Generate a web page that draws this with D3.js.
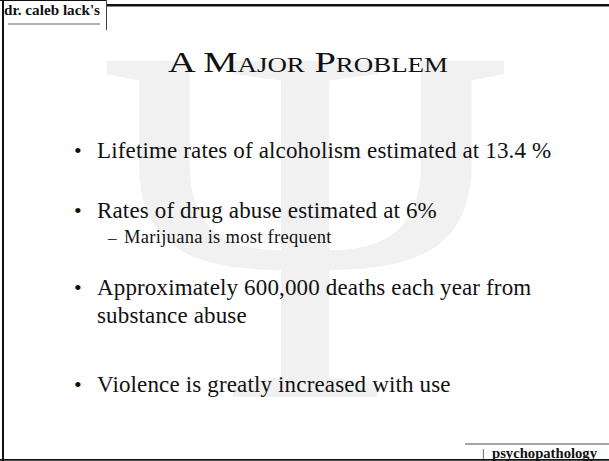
<!DOCTYPE html>
<html><head><meta charset="utf-8">
<script src="https://cdn.jsdelivr.net/npm/d3@7"></script>
<style>html,body{margin:0;padding:0;background:#fff;overflow:hidden}</style>
</head><body>
<script>
const headerLabel = "dr. caleb lack's";
const footerLabel = "psychopathology";
const title = "A Major Problem";
const bullets = [
  ["Lifetime rates of alcoholism estimated at 13.4 %"],
  ["Rates of drug abuse estimated at 6%"],
  ["Approximately 600,000 deaths each year from", "substance abuse"],
  ["Violence is greatly increased with use"]
];
const subBullets = [[], ["Marijuana is most frequent"], [], []];

const W = 609, H = 461;
const serif = "'Liberation Serif', 'Times New Roman', serif";
const svg = d3.select("body").append("svg").attr("width", W).attr("height", H);
svg.append("rect").attr("width", W).attr("height", H).attr("fill", "#fff");

// Psi watermark fitted to target ink box via canvas measurement
const box = {x0: 105, y0: 60, x1: 512, y1: 397};
const cv = document.createElement("canvas").getContext("2d");
const fs = 500;
cv.font = `${fs}px 'Liberation Serif'`;
const m = cv.measureText("\u03A8");
const inkW = m.actualBoundingBoxLeft + m.actualBoundingBoxRight;
const inkH = m.actualBoundingBoxAscent + m.actualBoundingBoxDescent;
const sx = (box.x1 - box.x0) / inkW, sy = (box.y1 - box.y0) / inkH;
svg.append("text")
  .attr("transform", `translate(${box.x0 + m.actualBoundingBoxLeft * sx},${box.y0 + m.actualBoundingBoxAscent * sy}) scale(${sx},${sy})`)
  .attr("font-family", "'Liberation Serif'").attr("font-size", fs)
  .attr("fill", "#f1f1f1").text("\u03A8");

// Frame
svg.append("line").attr("x1", 3).attr("x2", 3).attr("y1", 0).attr("y2", H).attr("stroke", "#111").attr("stroke-width", 2);
svg.append("line").attr("x1", 0).attr("x2", W).attr("y1", 459.8).attr("y2", 459.8).attr("stroke", "#111").attr("stroke-width", 1.8);
svg.append("line").attr("x1", 107).attr("x2", W).attr("y1", 5.2).attr("y2", 5.2).attr("stroke", "#111").attr("stroke-width", 2.5);
svg.append("line").attr("x1", 0).attr("x2", 107).attr("y1", 0.5).attr("y2", 0.5).attr("stroke", "#111").attr("stroke-width", 1);
svg.append("line").attr("x1", 106.5).attr("x2", 106.5).attr("y1", 0).attr("y2", 30).attr("stroke", "#444").attr("stroke-width", 1);
svg.append("line").attr("x1", 8).attr("x2", 100).attr("y1", 24).attr("y2", 24).attr("stroke", "#999").attr("stroke-width", 1.5);
svg.append("text").attr("x", 4).attr("y", 15).attr("font-family", serif).attr("font-weight", "bold")
  .attr("font-size", 14).attr("fill", "#111").attr("textLength", 96).attr("lengthAdjust", "spacingAndGlyphs").text(headerLabel);

// footer
svg.append("line").attr("x1", 465).attr("x2", W).attr("y1", 444).attr("y2", 444).attr("stroke", "#888").attr("stroke-width", 1.5);
svg.append("text").attr("x", 482).attr("y", 458).attr("font-family", serif).attr("font-size", 13).attr("fill", "#111").text("|");
svg.append("text").attr("x", 492).attr("y", 458).attr("font-family", serif).attr("font-weight", "bold")
  .attr("font-size", 14).attr("fill", "#111").attr("textLength", 105).attr("lengthAdjust", "spacingAndGlyphs").text(footerLabel);

// title
svg.append("text").attr("x", 168).attr("y", 72)
  .attr("font-family", serif).attr("font-size", 30).style("font-variant", "small-caps")
  .attr("textLength", 280).attr("lengthAdjust", "spacingAndGlyphs")
  .attr("fill", "#111").text(title);

// bullets
const baseY = [158, 218, 295, 392];
const lineGap = 28;
const textX = 97, bulletX = 74;
bullets.forEach((lines, i) => {
  svg.append("text").attr("x", bulletX).attr("y", baseY[i]).attr("font-family", serif)
    .attr("font-size", 22).attr("fill", "#111").text("\u2022");
  lines.forEach((ln, j) => {
    svg.append("text").attr("x", textX).attr("y", baseY[i] + j * lineGap)
      .attr("font-family", serif).attr("font-size", 23).attr("letter-spacing", 0.15)
      .attr("fill", "#111").text(ln);
  });
  subBullets[i].forEach((s, j) => {
    const y = baseY[i] + 25 + j * 22;
    svg.append("text").attr("x", 108).attr("y", y).attr("font-family", serif)
      .attr("font-size", 17).attr("fill", "#333").text("\u2013");
    svg.append("text").attr("x", 124).attr("y", y).attr("font-family", serif)
      .attr("font-size", 18.5).attr("letter-spacing", 0.3).attr("fill", "#111").text(s);
  });
});
</script>
</body></html>
